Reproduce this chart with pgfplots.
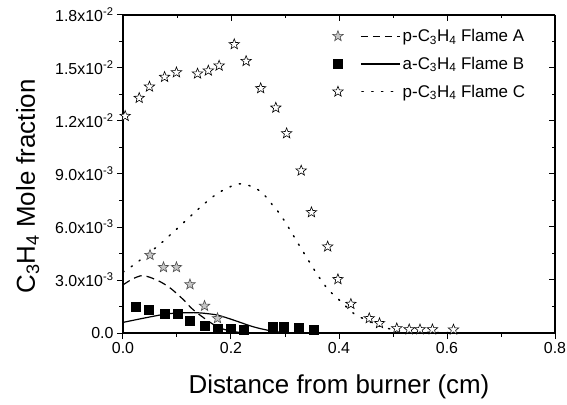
\documentclass[border=0pt]{standalone}
\usepackage{fontspec}
\setmainfont{Liberation Sans}
\usepackage{pgfplots}
\pgfplotsset{compat=1.18}

\pgfdeclareplotmark{ostar}{%
  \pgfpathmoveto{\pgfpointpolar{90}{\pgfplotmarksize}}%
  \pgfpathlineto{\pgfpointpolar{126}{0.42\pgfplotmarksize}}%
  \pgfpathlineto{\pgfpointpolar{162}{\pgfplotmarksize}}%
  \pgfpathlineto{\pgfpointpolar{198}{0.42\pgfplotmarksize}}%
  \pgfpathlineto{\pgfpointpolar{234}{\pgfplotmarksize}}%
  \pgfpathlineto{\pgfpointpolar{270}{0.42\pgfplotmarksize}}%
  \pgfpathlineto{\pgfpointpolar{306}{\pgfplotmarksize}}%
  \pgfpathlineto{\pgfpointpolar{342}{0.42\pgfplotmarksize}}%
  \pgfpathlineto{\pgfpointpolar{18}{\pgfplotmarksize}}%
  \pgfpathlineto{\pgfpointpolar{54}{0.42\pgfplotmarksize}}%
  \pgfpathclose
  \pgfusepathqfillstroke}

\pgfplotsset{
  myaxis/.style={
    width=432bp, height=318bp, scale only axis,
    xmin=0, xmax=0.8, ymin=0, ymax=18,
    xtick={0,0.2,0.4,0.6,0.8},
    ytick={0,3,6,9,12,15,18},
    minor x tick num=1, minor y tick num=1,
    axis line style={line width=1.1bp,-},
    major tick length=6bp, minor tick length=3.5bp,
    every tick/.style={line width=1bp, black},
    tick label style={font=\fontsize{16}{19}\selectfont, black},
  }
}

\begin{document}
\begin{tikzpicture}
\path[use as bounding box] (-123bp,-72bp) rectangle (444bp,333bp);

\begin{axis}[myaxis,
  axis x line*=top, axis y line*=right, tick align=inside,
  xticklabels={}, yticklabels={}]
\end{axis}

\begin{axis}[myaxis,
  axis x line*=bottom, axis y line*=left, tick align=outside,
  clip=false,
  xticklabels={0.0,0.2,0.4,0.6,0.8},
  yticklabels={0.0,{3.0x10\textsuperscript{-3}},{6.0x10\textsuperscript{-3}},{9.0x10\textsuperscript{-3}},{1.2x10\textsuperscript{-2}},{1.5x10\textsuperscript{-2}},{1.8x10\textsuperscript{-2}}},
  xlabel={Distance from burner (cm)},
  ylabel={C\textsubscript{3}H\textsubscript{4} Mole fraction},
  label style={font=\fontsize{26}{30}\selectfont},
  xlabel style={at={(axis description cs:0.5,0)}, anchor=base, yshift=-60bp},
  ylabel style={at={(axis description cs:-0.2037,0.461)}, anchor=base, rotate=0},
  legend style={draw=none, fill=none, at={(axis description cs:0.485,0.962)}, anchor=north west,
    font=\fontsize{17}{20}\selectfont, row sep=10bp, inner sep=0pt},
  legend cell align=left,
]

% line series
\addplot[forget plot, black, line width=1.2bp, dash pattern=on 8bp off 5bp, smooth] coordinates {
(0,2.72) (0.017,3.05) (0.035,3.25) (0.05,3.15) (0.069,2.9) (0.085,2.6) (0.099,2.25)
(0.113,1.85) (0.127,1.4) (0.141,1.05) (0.155,0.74) (0.168,0.47) (0.18,0.28)
(0.2,0.1) (0.22,0.03) (0.25,0.0)};

\addplot[forget plot, black, line width=1.2bp, smooth] coordinates {
(0,0.6) (0.04,0.85) (0.081,1.08) (0.11,1.14) (0.136,1.15) (0.155,1.1) (0.174,1.02)
(0.19,0.88) (0.204,0.74) (0.22,0.57) (0.235,0.41) (0.25,0.28) (0.266,0.17)
(0.28,0.09) (0.3,0.03) (0.33,0.0) (0.8,0.0)};

\addplot[forget plot, black, line width=1.5bp, dash pattern=on 1.3bp off 8.5bp, line cap=round, smooth] coordinates {
(0,3.45) (0.017,3.79) (0.036,4.23) (0.07,5.07) (0.106,6.07) (0.141,7.06) (0.175,7.9)
(0.209,8.41) (0.227,8.4) (0.246,8.19) (0.262,7.8) (0.277,7.24) (0.291,6.72)
(0.307,5.95) (0.323,5.13) (0.343,4.13) (0.36,3.3) (0.379,2.49) (0.396,2.0)
(0.413,1.5) (0.431,1.02) (0.451,0.74) (0.47,0.45) (0.5,0.2) (0.55,0.06)
(0.6,0.02) (0.7,0.0) (0.8,0.0)};

% Flame C stars
\addplot[forget plot, only marks, mark=ostar, mark size=5.5bp,
  mark options={fill=white, draw=black, line width=0.6bp}] coordinates {
(0.004,12.28) (0.03,13.3) (0.049,13.94) (0.077,14.49) (0.099,14.75) (0.138,14.68)
(0.158,14.85) (0.178,15.13) (0.206,16.34) (0.228,15.39) (0.255,13.85) (0.283,12.75)
(0.303,11.3) (0.330,9.19) (0.349,6.83) (0.379,4.89) (0.398,3.04) (0.422,1.64)
(0.456,0.83) (0.475,0.55) (0.507,0.26) (0.530,0.2) (0.550,0.2) (0.573,0.2) (0.612,0.19)};

% Flame A stars
\addplot[forget plot, only marks, mark=ostar, mark size=5.5bp,
  mark options={fill=gray!45, draw=black!70, line width=0.6bp}] coordinates {
(0.05,4.41) (0.075,3.72) (0.099,3.72) (0.124,2.75) (0.151,1.53) (0.175,0.83)};

% Flame B squares
\addplot[forget plot, only marks, mark=square*, mark size=4.5bp,
  mark options={fill=black, draw=black}] coordinates {
(0.024,1.49) (0.048,1.34) (0.078,1.08) (0.101,1.08) (0.124,0.70) (0.151,0.43)
(0.175,0.26) (0.199,0.26) (0.223,0.21) (0.277,0.36) (0.297,0.36) (0.325,0.32) (0.354,0.21)};

% legend
\addlegendimage{legend image code/.code={%
  \draw[black, line width=1.2bp, dash pattern=on 7bp off 5bp] (23bp,0) -- (62bp,0);
  \begin{scope}[fill=gray!45, draw=black!70, line width=0.6bp, solid]
  \pgfsetplotmarksize{5.5bp}\pgfuseplotmark{ostar}\end{scope}}}
\addlegendentry{p-C\textsubscript{3}H\textsubscript{4} Flame A}
\addlegendimage{legend image code/.code={%
  \draw[black, line width=1.2bp, solid] (23bp,0) -- (62bp,0);
  \begin{scope}[fill=black, draw=black, line width=0.6bp, solid]
  \pgfsetplotmarksize{4.5bp}\pgfuseplotmark{square*}\end{scope}}}
\addlegendentry{a-C\textsubscript{3}H\textsubscript{4} Flame B}
\addlegendimage{legend image code/.code={%
  \draw[black, line width=1.5bp, dash pattern=on 1.3bp off 8.5bp, line cap=round] (24bp,0) -- (62bp,0);
  \begin{scope}[fill=white, draw=black, line width=0.6bp, solid]
  \pgfsetplotmarksize{5.5bp}\pgfuseplotmark{ostar}\end{scope}}}
\addlegendentry{p-C\textsubscript{3}H\textsubscript{4} Flame C}
\end{axis}
\end{tikzpicture}
\end{document}
